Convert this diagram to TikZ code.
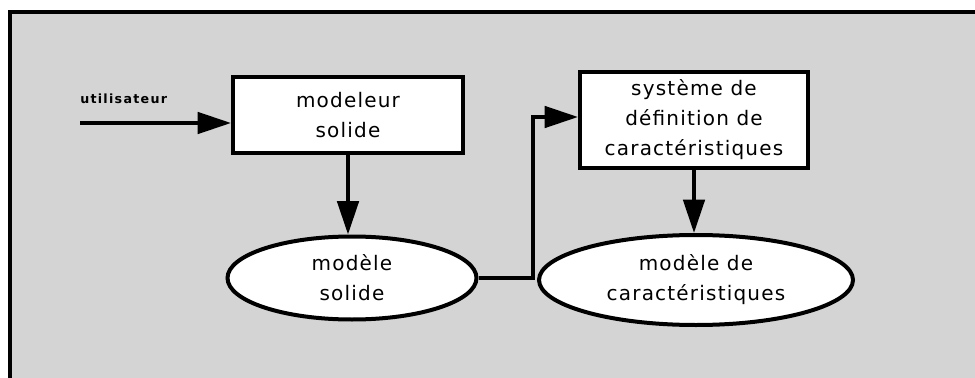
\documentclass[tikz,border=0pt]{standalone}
\usepackage{fontspec}
\setmainfont{DejaVu Sans}[LetterSpace=6]
\newfontfamily\userfont{DejaVu Sans}[LetterSpace=10]
\usetikzlibrary{arrows.meta,shapes.geometric}
\begin{document}
\begin{tikzpicture}[x=0.75pt,y=-0.75pt,
  every node/.style={font=\fontsize{15pt}{22.5pt}\selectfont, align=center},
  boxnode/.style={draw, line width=3pt, fill=white, rectangle, inner sep=0pt},
  ellnode/.style={draw, line width=3pt, fill=white, ellipse, inner sep=0pt},
  arr/.style={line width=2.8pt, -{Triangle[length=25pt,width=16pt]}},
  lnk/.style={line width=2.8pt}]
\useasboundingbox (0,0) rectangle (975,378);
\fill[black!17] (10,12) rectangle (975,378);
\draw[line width=2.5pt] (10,378) -- (10,12) -- (975,12);
\node[boxnode, minimum width=172.5pt, minimum height=57pt] (b1) at (348,115) {modeleur\\solide};
\node[boxnode, minimum width=171pt, minimum height=72pt] (b2) at (694,120) {système de\\définition de\\caractéristiques};
\node[ellnode, minimum width=186.75pt, minimum height=62.25pt] (e1) at (352,278) {modèle\\solide};
\node[ellnode, minimum width=235.5pt, minimum height=67.5pt] (e2) at (696,280) {modèle de\\caractéristiques};
\coordinate (u) at (80,123);
\node[font=\userfont\bfseries\fontsize{9.5pt}{11pt}\selectfont, anchor=west, inner sep=0pt] (ul) at (80,99) {utilisateur};
\draw[arr] (u) -- (u -| b1.west);
\draw[arr] (b1.south) -- (b1.south |- e1.north);
\coordinate (m) at (533,117);
\draw[arr] (e1.east) -- (e1.east -| m) -- (m) -- (m -| b2.west);
\draw[arr] (b2.south) -- (b2.south |- e2.north);
\end{tikzpicture}
\end{document}
